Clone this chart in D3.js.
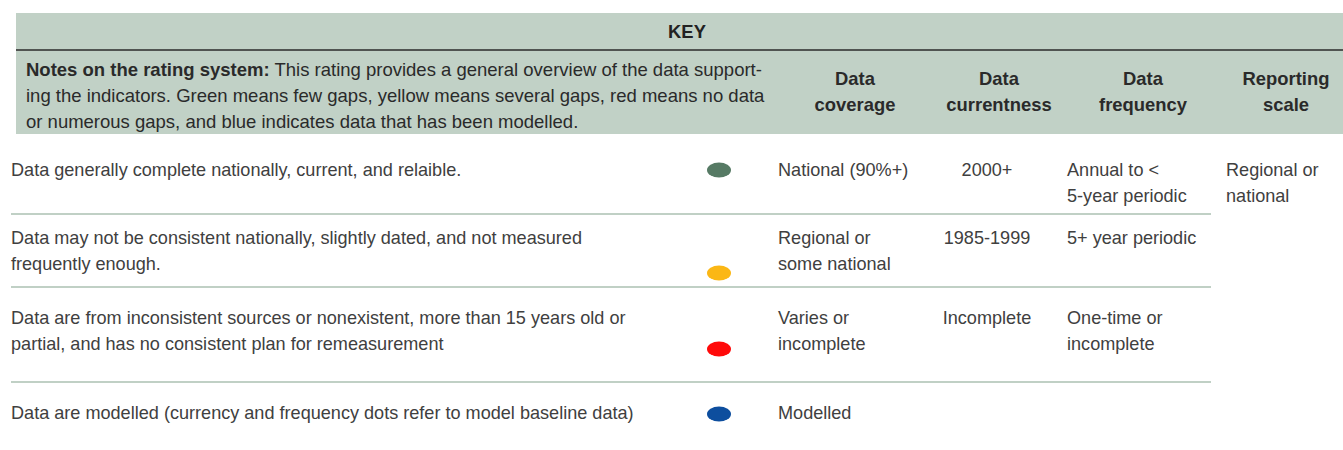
<!DOCTYPE html>
<html><head><meta charset="utf-8">
<script src="https://cdn.jsdelivr.net/npm/d3@7"></script>
<style>
html,body{margin:0;padding:0;background:#fff;}
svg{display:block;font-family:"Liberation Sans",Arial,Helvetica,sans-serif;}
</style></head>
<body><svg id="c" width="1343" height="450"></svg>
<script>
// ---- data ----
const title = "KEY";
const notesBold = "Notes on the rating system:";
const notesLines = [
  " This rating provides a general overview of the data support-",
  "ing the indicators. Green means few gaps, yellow means several gaps, red means no data",
  "or numerous gaps, and blue indicates data that has been modelled."
];
const columnHeaders = [["Data","coverage"],["Data","currentness"],["Data","frequency"],["Reporting","scale"]];
const ratings = ["green","yellow","red","blue"];
const descriptions = [
  ["Data generally complete nationally, current, and relaible."],
  ["Data may not be consistent nationally, slightly dated, and not measured","frequently enough."],
  ["Data are from inconsistent sources or nonexistent, more than 15 years old or","partial, and has no consistent plan for remeasurement"],
  ["Data are modelled (currency and frequency dots refer to model baseline data)"]
];
const coverage = [["National (90%+)"],["Regional or","some national"],["Varies or","incomplete"],["Modelled"]];
const currentness = [["2000+"],["1985-1999"],["Incomplete"],[]];
const frequency = [["Annual to <","5-year periodic"],["5+ year periodic"],["One-time or","incomplete"],[]];
const reporting = [["Regional or","national"],[],[],[]];
const dotColors = ["#567a64","#fbb715","#ff0a0a","#0d4e9e"];

// ---- layout ----
const svg = d3.select("#c");
const textColor = "#404040";
const bandColor = "#c1d1c6";
const lineH = 26;
const bodySize = 18.1;
const color = d3.scaleOrdinal().domain(ratings).range(dotColors);
const rowY = d3.scaleOrdinal().domain(ratings).range([176, 244, 324, 419]);       // first baseline of each row
const dotY = d3.scaleOrdinal().domain(ratings).range([170, 273, 349, 414]);
const sepY = d3.scaleOrdinal().domain(ratings).range([214, 287, 382, null]);
const colX = d3.scaleOrdinal().domain(["desc","cov","cur","freq","rep"]).range([11, 778, 987, 1067, 1226]);
const headerX = d3.scaleOrdinal().domain([0,1,2,3]).range([855, 999, 1143, 1286]);

// header band
svg.append("rect").attr("x",16).attr("y",13).attr("width",1343-16).attr("height",121).attr("fill",bandColor);
svg.append("line").attr("x1",16).attr("x2",1343).attr("y1",50).attr("y2",50).attr("stroke","#2a2a2a").attr("stroke-width",1.5);
svg.append("text").attr("x",687).attr("y",38).attr("text-anchor","middle")
  .attr("font-size",18.4).attr("font-weight","bold").attr("fill","#222").text(title);

const notes = svg.append("text").attr("font-size",18.5).attr("fill","#2a2a2a");
notesLines.forEach((l,i)=>{
  const t = notes.append("tspan").attr("x",26).attr("y",76+i*lineH);
  if(i===0){ t.append("tspan").attr("font-weight","bold").text(notesBold); t.append("tspan").text(l); }
  else t.text(l);
});

columnHeaders.forEach((h,i)=>{
  svg.append("g").selectAll("text").data(h).join("text")
    .attr("x",headerX(i)).attr("y",(d,j)=>85+j*lineH).attr("text-anchor","middle")
    .attr("font-size",18.4).attr("font-weight","bold").attr("fill","#2a2a2a").text(d=>d);
});

// rows
const rows = svg.append("g").selectAll("g").data(ratings).join("g");
rows.filter(d=>sepY(d)!=null).append("line")
  .attr("x1",11).attr("x2",1211).attr("y1",d=>sepY(d)).attr("y2",d=>sepY(d))
  .attr("stroke","#c0d0c5").attr("stroke-width",2);
rows.append("ellipse").attr("cx",719).attr("cy",d=>dotY(d)).attr("rx",12).attr("ry",7.5).attr("fill",d=>color(d));

function cell(key, arr, anchor){
  rows.each(function(d,i){
    d3.select(this).append("g").selectAll("text").data(arr[i]).join("text")
      .attr("x",colX(key)).attr("y",(t,j)=>rowY(d)+j*lineH)
      .attr("text-anchor",anchor).attr("font-size",bodySize).attr("fill",textColor).text(t=>t);
  });
}
cell("desc", descriptions, "start");
cell("cov", coverage, "start");
cell("cur", currentness, "middle");
cell("freq", frequency, "start");
cell("rep", reporting, "start");
</script></body></html>
